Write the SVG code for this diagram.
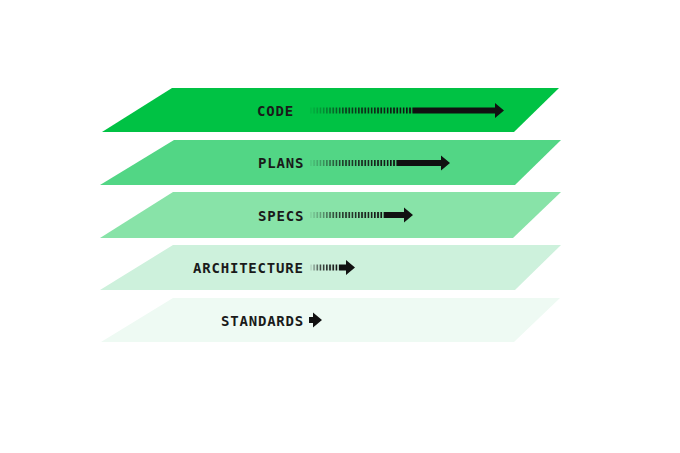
<svg xmlns="http://www.w3.org/2000/svg" width="680" height="453" viewBox="0 0 680 453">
<style>
.lbl{font-family:"DejaVu Sans Mono","Liberation Mono",monospace;font-weight:bold;font-size:14px;letter-spacing:0.8px;fill:#1a1a1a}
.solid{fill:#111}
.dash{fill:url(#fade);mask:url(#tickMask)}
</style>
<defs>
<linearGradient id="fade" x1="0" y1="0" x2="1" y2="0">
<stop offset="0" stop-color="#111" stop-opacity="0.05"/>
<stop offset="0.35" stop-color="#111" stop-opacity="0.75"/>
<stop offset="1" stop-color="#111" stop-opacity="1"/>
</linearGradient>
<pattern id="ticks" patternUnits="userSpaceOnUse" x="310" y="0" width="3.2" height="10">
<rect x="0" y="0" width="1.7" height="10" fill="#fff"/>
</pattern>
<mask id="tickMask" maskUnits="userSpaceOnUse" x="0" y="0" width="680" height="453">
<rect x="0" y="0" width="680" height="453" fill="url(#ticks)"/>
</mask>
</defs>
<rect width="680" height="453" fill="#fff"/>
<g id="standards">
<polygon points="173,298 560,298 514,342 101,342" fill="#eefaf3"/>
<text class="lbl" x="221" y="325.5">STANDARDS</text>
<polygon class="solid" points="309,317 313,317 313,312.5 322,320 313,327.5 313,323 309,323"/>
</g>
<g id="architecture">
<polygon points="173,245 561,245 515,290 100,290" fill="#cdf1dc"/>
<text class="lbl" x="193" y="273">ARCHITECTURE</text>
</g>
<g id="specs">
<polygon points="173,192 561,192 513,238 100,238" fill="#88e3a8"/>
<text class="lbl" x="258" y="220.5">SPECS</text>
</g>
<g id="plans">
<polygon points="174,140 561,140 515,185 100,185" fill="#52d685"/>
<text class="lbl" x="258" y="168">PLANS</text>
</g>
<g id="code">
<polygon points="172,88 559,88 514,132 102,132" fill="#00c244"/>
<text class="lbl" x="257" y="115.5">CODE</text>
</g>
<g id="connectors">
<rect class="dash" x="310" y="107.5" width="103" height="6"/>
<polygon class="solid" points="413,107.5 495,107.5 495,103 504,110.5 495,118 495,113.5 413,113.5"/>
<rect class="dash" x="310" y="160" width="87" height="6"/>
<polygon class="solid" points="397,160 441,160 441,155.5 450,163 441,170.5 441,166 397,166"/>
<rect class="dash" x="310" y="212" width="75" height="6"/>
<polygon class="solid" points="385,212 404,212 404,207.5 413,215 404,222.5 404,218 385,218"/>
<rect class="dash" x="310" y="264.5" width="29" height="6"/>
<polygon class="solid" points="339,264.5 346,264.5 346,260 355,267.5 346,275 346,270.5 339,270.5"/>
</g>
</svg>
